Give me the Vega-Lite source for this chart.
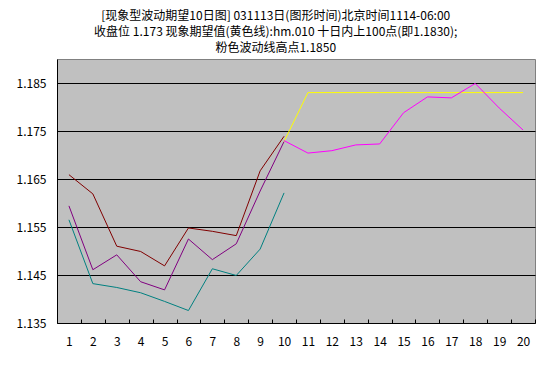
{
  "$schema": "https://vega.github.io/schema/vega-lite/v6.json",
  "width": 478,
  "height": 264,
  "autosize": {"type": "none"},
  "padding": {"left": 57, "top": 59, "right": 16, "bottom": 43},
  "background": "white",
  "title": {
    "text": "[现象型波动期望10日图] 031113日(图形时间)北京时间1114-06:00",
    "subtitle": ["收盘位 1.173 现象期望值(黄色线):hm.010 十日内上100点(即1.1830);", "粉色波动线高点1.1850"],
    "anchor": "middle",
    "frame": "bounds",
    "font": "Noto Sans CJK SC",
    "fontSize": 12,
    "fontWeight": "normal",
    "color": "black",
    "subtitleFont": "Noto Sans CJK SC",
    "subtitleFontSize": 12,
    "subtitleColor": "black",
    "subtitleLineHeight": 16.5,
    "subtitlePadding": 4,
    "offset": 4
  },
  "data": {
    "values": [
      {"series": "teal", "day": 1, "value": 1.1565},
      {"series": "teal", "day": 2, "value": 1.1432},
      {"series": "teal", "day": 3, "value": 1.1424},
      {"series": "teal", "day": 4, "value": 1.1413},
      {"series": "teal", "day": 5, "value": 1.1395},
      {"series": "teal", "day": 6, "value": 1.1376},
      {"series": "teal", "day": 7, "value": 1.1463},
      {"series": "teal", "day": 8, "value": 1.1449},
      {"series": "teal", "day": 9, "value": 1.1504},
      {"series": "teal", "day": 10, "value": 1.1621},
      {"series": "darkred", "day": 1, "value": 1.1659},
      {"series": "darkred", "day": 2, "value": 1.1619},
      {"series": "darkred", "day": 3, "value": 1.1510},
      {"series": "darkred", "day": 4, "value": 1.1499},
      {"series": "darkred", "day": 5, "value": 1.1469},
      {"series": "darkred", "day": 6, "value": 1.1548},
      {"series": "darkred", "day": 7, "value": 1.1541},
      {"series": "darkred", "day": 8, "value": 1.1532},
      {"series": "darkred", "day": 9, "value": 1.1667},
      {"series": "darkred", "day": 10, "value": 1.1739},
      {"series": "purple", "day": 1, "value": 1.1594},
      {"series": "purple", "day": 2, "value": 1.1461},
      {"series": "purple", "day": 3, "value": 1.1492},
      {"series": "purple", "day": 4, "value": 1.1436},
      {"series": "purple", "day": 5, "value": 1.1419},
      {"series": "purple", "day": 6, "value": 1.1525},
      {"series": "purple", "day": 7, "value": 1.1482},
      {"series": "purple", "day": 8, "value": 1.1515},
      {"series": "purple", "day": 9, "value": 1.1625},
      {"series": "purple", "day": 10, "value": 1.1728},
      {"series": "yellow", "day": 10, "value": 1.1728},
      {"series": "yellow", "day": 11, "value": 1.1830},
      {"series": "yellow", "day": 12, "value": 1.1830},
      {"series": "yellow", "day": 13, "value": 1.1830},
      {"series": "yellow", "day": 14, "value": 1.1830},
      {"series": "yellow", "day": 15, "value": 1.1830},
      {"series": "yellow", "day": 16, "value": 1.1830},
      {"series": "yellow", "day": 17, "value": 1.1830},
      {"series": "yellow", "day": 18, "value": 1.1830},
      {"series": "yellow", "day": 19, "value": 1.1830},
      {"series": "yellow", "day": 20, "value": 1.1830},
      {"series": "magenta", "day": 10, "value": 1.1730},
      {"series": "magenta", "day": 11, "value": 1.1704},
      {"series": "magenta", "day": 12, "value": 1.1709},
      {"series": "magenta", "day": 13, "value": 1.1721},
      {"series": "magenta", "day": 14, "value": 1.1723},
      {"series": "magenta", "day": 15, "value": 1.1788},
      {"series": "magenta", "day": 16, "value": 1.1821},
      {"series": "magenta", "day": 17, "value": 1.1819},
      {"series": "magenta", "day": 18, "value": 1.1849},
      {"series": "magenta", "day": 19, "value": 1.1798},
      {"series": "magenta", "day": 20, "value": 1.1752}
    ]
  },
  "mark": {"type": "line", "strokeWidth": 1},
  "encoding": {
    "x": {
      "field": "day",
      "type": "ordinal",
      "scale": {"type": "band", "domain": [1,2,3,4,5,6,7,8,9,10,11,12,13,14,15,16,17,18,19,20], "paddingInner": 0, "paddingOuter": 0},
      "axis": {
        "title": null,
        "labelAngle": 0,
        "grid": false,
        "domain": false,
        "offset": -4,
        "tickColor": "black",
        "tickBand": "extent",
        "tickSize": 4,
        "labelPadding": 13,
        "labelFont": "Noto Sans CJK SC",
        "labelFontSize": 12,
        "labelColor": "black"
      }
    },
    "y": {
      "field": "value",
      "type": "quantitative",
      "scale": {"domain": [1.135, 1.19], "nice": false, "zero": false},
      "axis": {
        "title": null,
        "values": [1.135, 1.145, 1.155, 1.165, 1.175, 1.185],
        "format": ".3f",
        "grid": true,
        "gridColor": "black",
        "gridOpacity": 1,
        "gridWidth": 1,
        "ticks": false,
        "domain": true,
        "domainColor": "black",
        "labelPadding": 11,
        "labelFont": "Noto Sans CJK SC",
        "labelFontSize": 12,
        "labelColor": "black"
      }
    },
    "color": {
      "field": "series",
      "type": "nominal",
      "scale": {
        "domain": ["teal", "darkred", "purple", "yellow", "magenta"],
        "range": ["#008080", "#800000", "#800080", "#FFFF00", "#FF00FF"]
      },
      "legend": null
    }
  },
  "config": {
    "view": {"fill": "#C0C0C0", "stroke": "#808080", "strokeWidth": 1}
  }
}
